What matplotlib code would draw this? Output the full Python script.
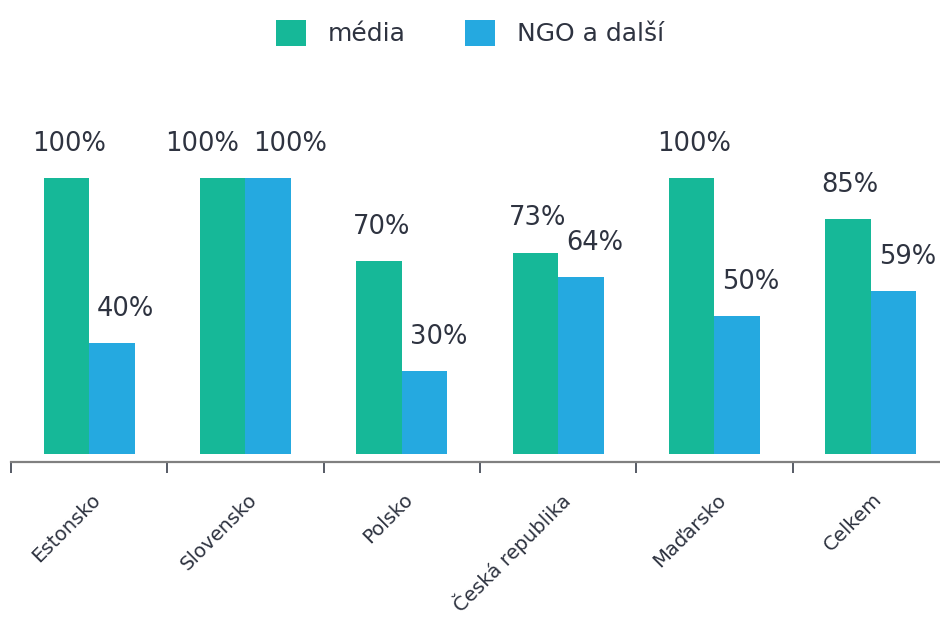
"""Grouped bar chart: média vs. NGO a další by country"""

import numpy as np
import matplotlib.pyplot as plt
from matplotlib.transforms import offset_copy, blended_transform_factory

countries = ["Estonsko", "Slovensko", "Polsko", "Česká republika",
             "Maďarsko", "Celkem"]
media = [100, 100, 70, 73, 100, 85]
ngo = [40, 100, 30, 64, 50, 59]
series_names = ["média", "NGO a další"]

GREEN = "#16b898"
BLUE = "#25a9e0"
TEXT = "#2e3340"

plt.rcParams["font.family"] = ["DejaVu Sans"]


def main():
    fig = plt.figure(figsize=(9.4, 6.19), dpi=100)
    ax = fig.add_axes([11 / 940, 157 / 619, 938 / 940, 339 / 619])

    x = np.arange(len(countries))
    w = 0.29
    b1 = ax.bar(x - w / 2, media, w, color=GREEN, label=series_names[0])
    b2 = ax.bar(x + w / 2, ngo, w, color=BLUE, label=series_names[1])

    ax.set_xlim(-0.5, len(countries) - 0.5)
    ax.set_ylim(-3, 120)

    # value labels
    for i, (m, n) in enumerate(zip(media, ngo)):
        dm, dn = (1.5, 10) if m != n else (-15, 16)
        for xv, yv, d in ((x[i] - w / 2, m, dm), (x[i] + w / 2, n, dn)):
            tr = offset_copy(ax.transData, fig=fig, x=d, y=19.5,
                             units="points")
            ax.text(xv, yv, f"{yv}%", transform=tr, ha="center",
                    va="baseline", fontsize=18.5, color=TEXT)

    for s in ["top", "left", "right"]:
        ax.spines[s].set_visible(False)
    ax.spines["bottom"].set_color("#808080")
    ax.spines["bottom"].set_linewidth(1.6)
    ax.set_yticks([])

    # category labels, rotated, under the group centres
    ax.set_xticks([])
    blend = blended_transform_factory(ax.transData, ax.transAxes)
    lab_tr = offset_copy(blend, fig=fig, x=6, y=-25, units="points")
    for xi, name in zip(x, countries):
        ax.text(xi, 0, name, transform=lab_tr, rotation=45, ha="right",
                va="center", rotation_mode="anchor", fontsize=14.2,
                color=TEXT, clip_on=False)

    ax.set_xticks(np.arange(-0.5, len(countries)), minor=True)
    ax.tick_params(axis="x", which="minor", length=8, width=1.2,
                   color="#3a3f4b", direction="out")

    fig.legend(handles=[b1, b2], loc="center", bbox_to_anchor=(0.5, 1 - 33 / 619),
               ncol=2, frameon=False, fontsize=18, handlelength=1.2,
               handleheight=1.2, handletextpad=0.88, columnspacing=2.4,
               labelcolor=TEXT)

    plt.savefig("out.png", dpi=100)


if __name__ == '__main__':
    main()
